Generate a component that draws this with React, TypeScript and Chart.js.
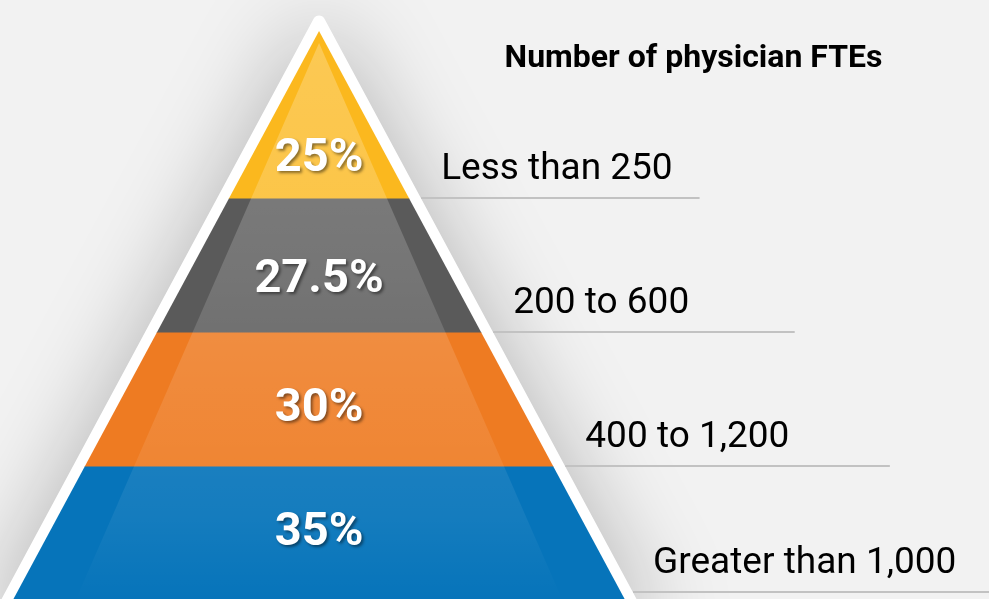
import React, { useEffect, useRef } from "react";
import { Chart, registerables } from "chart.js";

Chart.register(...registerables);

// ---- data ----
const categories = ["Less than 250", "200 to 600", "400 to 1,200", "Greater than 1,000"];
const shares = [25, 27.5, 30, 35];
const chartTitle = "Number of physician FTEs";
const bandColors = ["#FBB81E", "#5A5A5A", "#EE7B22", "#0674BA"];

// ---- layout (pyramid "level" units; apex = 0) ----
const BOUNDS = [0, 1.25, 2.25, 3.25, 4.25];
const SLOPE = 0.538;
const VALUE_BASE = [1.045, 1.948, 2.91, 3.836];
const RULE_Y = [1.25, 2.25, 3.25, 4.19];
const RULE_END = [2.84, 3.55, 4.26, 5.0];
const X_MIN = -2.381;
const X_MAX = 5.0;
const Y_MIN = -0.231;
const Y_MAX = 4.239;

const pyramidPlugin = {
  id: "pyramid",
  beforeDatasetsDraw(chart: any) {
    const { ctx, width, height } = chart;
    const xs = chart.scales.x;
    const ys = chart.scales.y;
    const px = (v: number) => xs.getPixelForValue(v);
    const py = (v: number) => ys.getPixelForValue(v);
    ctx.save();
    ctx.fillStyle = "#f2f2f2";
    ctx.fillRect(0, 0, width, height);

    const theta = Math.atan(SLOPE);
    const off = 10.5;
    const bottom = BOUNDS[4] + 0.3;
    const ax = px(0);
    const ay = py(0);
    const dx = off / Math.cos(theta);
    const apexOuterY = ay - off / Math.sin(theta);

    // white outline with shadow
    ctx.beginPath();
    ctx.moveTo(px(-SLOPE * bottom) - dx, py(bottom));
    ctx.arcTo(ax, apexOuterY, px(SLOPE * bottom) + dx, py(bottom), 6);
    ctx.lineTo(px(SLOPE * bottom) + dx, py(bottom));
    ctx.closePath();
    ctx.shadowColor = "rgba(0,0,0,0.26)";
    ctx.shadowBlur = 90;
    ctx.fillStyle = "#ffffff";
    ctx.fill();
    ctx.shadowColor = "transparent";
    ctx.shadowBlur = 0;

    // rules
    ctx.strokeStyle = "#c2c2c2";
    ctx.lineWidth = 2;
    RULE_Y.forEach((ly, i) => {
      const yy = Math.round(py(ly));
      ctx.beginPath();
      ctx.moveTo(px(SLOPE * ly) + dx, yy);
      ctx.lineTo(px(RULE_END[i]), yy);
      ctx.stroke();
    });

    // bands
    for (let i = 0; i < bandColors.length; i++) {
      const t = BOUNDS[i];
      const b = BOUNDS[i + 1] + (i < bandColors.length - 1 ? 0.004 : 0.3);
      ctx.beginPath();
      ctx.moveTo(px(-SLOPE * t), py(t));
      ctx.lineTo(px(SLOPE * t), py(t));
      ctx.lineTo(px(SLOPE * b), py(b));
      ctx.lineTo(px(-SLOPE * b), py(b));
      ctx.closePath();
      ctx.fillStyle = bandColors[i];
      ctx.fill();
    }

    // inner highlight
    const hlTop = 0.09;
    const hlSlope = 0.437;
    const hb = bottom;
    const g = ctx.createLinearGradient(0, py(hlTop), 0, py(BOUNDS[4]));
    g.addColorStop(0, "rgba(255,255,255,0.24)");
    g.addColorStop(0.4, "rgba(255,255,255,0.17)");
    g.addColorStop(0.66, "rgba(255,255,255,0.10)");
    g.addColorStop(0.85, "rgba(255,255,255,0.06)");
    g.addColorStop(1, "rgba(255,255,255,0.0)");
    ctx.beginPath();
    ctx.moveTo(px(0), py(hlTop));
    ctx.lineTo(px(hlSlope * (hb - hlTop)), py(hb));
    ctx.lineTo(px(-hlSlope * (hb - hlTop)), py(hb));
    ctx.closePath();
    ctx.fillStyle = g;
    ctx.fill();

    // category labels
    ctx.fillStyle = "#000000";
    ctx.font = "37px Roboto";
    ctx.textAlign = "left";
    ctx.textBaseline = "alphabetic";
    categories.forEach((c, i) => {
      const ly = RULE_Y[i];
      ctx.fillText(c, px(SLOPE * ly) + 32, py(ly) - 19);
    });

    // title
    ctx.font = "bold 32px Roboto";
    ctx.textAlign = "center";
    ctx.fillStyle = "#000000";
    ctx.fillText(chartTitle, px(2.795), py(0.269));
    ctx.restore();
  },
  afterDatasetsDraw(chart: any) {
    const { ctx } = chart;
    const meta = chart.getDatasetMeta(0);
    ctx.save();
    ctx.font = "bold 47px Roboto";
    ctx.textAlign = "center";
    ctx.textBaseline = "alphabetic";
    ctx.fillStyle = "#ffffff";
    ctx.shadowColor = "rgba(0,0,0,0.45)";
    ctx.shadowOffsetX = 2;
    ctx.shadowOffsetY = 2;
    ctx.shadowBlur = 3;
    meta.data.forEach((el: any, i: number) => {
      ctx.fillText(shares[i] + "%", el.x, el.y);
    });
    ctx.restore();
  },
};

export default function App() {
  const ref = useRef<HTMLCanvasElement>(null);
  useEffect(() => {
    if (!ref.current) return;
    const chart = new Chart(ref.current, {
      type: "scatter",
      data: {
        labels: categories,
        datasets: [
          {
            label: "Share",
            data: shares.map((_, i) => ({ x: 0, y: VALUE_BASE[i] })),
            pointRadius: 0,
            pointHoverRadius: 0,
            showLine: false,
          },
        ],
      },
      options: {
        responsive: false,
        animation: false,
        devicePixelRatio: 1,
        layout: { padding: 0 },
        plugins: {
          legend: { display: false },
          tooltip: { enabled: false },
          title: { display: false },
        },
        scales: {
          x: { type: "linear", min: X_MIN, max: X_MAX, display: false },
          y: { type: "linear", min: Y_MIN, max: Y_MAX, reverse: true, display: false },
        },
      },
      plugins: [pyramidPlugin],
    });
    return () => chart.destroy();
  }, []);
  return (
    <div style={{ position: "fixed", left: 0, top: 0, width: 989, height: 599 }}>
      <canvas ref={ref} width={989} height={599} style={{ display: "block" }} />
    </div>
  );
}
